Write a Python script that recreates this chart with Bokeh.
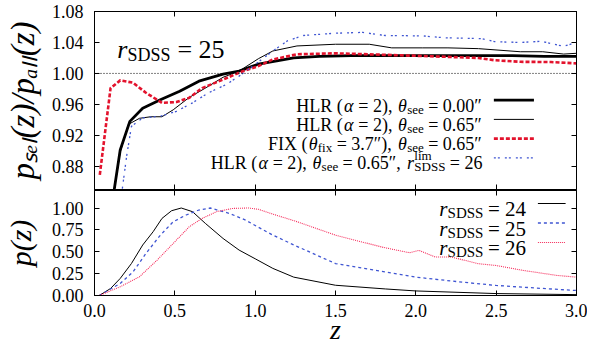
import glob, struct, math
from bokeh.plotting import figure
from bokeh.models import (Range1d, LinearAxis, FixedTicker, PrintfTickFormatter, Span, Label)
from bokeh.layouts import column
from bokeh.embed import file_html
from bokeh.resources import INLINE

# ---------------- data ----------------
z_hlr000 = [0.12, 0.16, 0.22, 0.30, 0.41, 0.53, 0.65, 0.80, 0.90, 1.02, 1.24, 1.40, 1.60,
            1.80, 2.00, 2.20, 2.40, 2.60, 2.80, 3.00]
p_hlr000 = [0.846, 0.901, 0.938, 0.955, 0.966, 0.977, 0.990, 0.999, 1.003, 1.012, 1.020,
            1.022, 1.023, 1.023, 1.023, 1.023, 1.023, 1.023, 1.022, 1.022]

z_hlr065 = [0.12, 0.16, 0.21, 0.28, 0.35, 0.42, 0.49, 0.59, 0.69, 0.80, 0.90, 1.02, 1.11,
            1.26, 1.50, 1.71, 1.85, 2.04, 2.20, 2.39, 2.65, 2.79, 2.92, 3.00]
p_hlr065 = [0.846, 0.898, 0.934, 0.942, 0.944, 0.944, 0.953, 0.969, 0.981, 0.995, 1.003,
            1.019, 1.029, 1.0355, 1.0377, 1.0377, 1.033, 1.033, 1.033, 1.032, 1.028, 1.028,
            1.025, 1.026]

z_fix = [0.033, 0.10, 0.16, 0.24, 0.32, 0.42, 0.51, 0.59, 0.67, 0.80, 0.90, 1.02, 1.11,
         1.26, 1.50, 1.81, 2.04, 2.39, 2.49, 2.65, 2.84, 3.00]
p_fix = [0.869, 0.981, 0.991, 0.988, 0.975, 0.962, 0.963, 0.9685, 0.981, 0.992, 1.001,
         1.0095, 1.018, 1.0247, 1.026, 1.024, 1.0225, 1.020, 1.017, 1.015, 1.0147, 1.013]

z_lim26 = [0.17, 0.20, 0.23, 0.30, 0.41, 0.51, 0.61, 0.71, 0.82, 0.90, 1.02, 1.11, 1.20,
           1.30, 1.50, 1.67, 1.81, 2.04, 2.18, 2.41, 2.49, 2.65, 2.78, 2.92, 3.00]
p_lim26 = [0.846, 0.893, 0.9316, 0.9425, 0.9446, 0.951, 0.962, 0.975, 0.9857, 0.9965,
           1.0147, 1.029, 1.042, 1.049, 1.052, 1.053, 1.049, 1.0485, 1.046, 1.045, 1.041,
           1.040, 1.0415, 1.035, 1.040]

z_r24 = [0.03, 0.10, 0.16, 0.23, 0.30, 0.365, 0.42, 0.48, 0.54, 0.61, 0.69, 0.80, 0.90,
         1.00, 1.11, 1.24, 1.50, 1.81, 2.00, 2.50, 3.00]
p_r24 = [0.0, 0.08, 0.195, 0.366, 0.577, 0.729, 0.881, 0.969, 1.0, 0.958, 0.824, 0.652,
         0.519, 0.42, 0.31, 0.21, 0.117, 0.075, 0.052, 0.022, 0.01]

z_r25 = [0.03, 0.16, 0.24, 0.32, 0.41, 0.49, 0.57, 0.65, 0.72, 0.84, 0.94, 1.02, 1.11,
         1.25, 1.50, 1.81, 2.00, 2.25, 2.50, 2.75, 3.00]
p_r25 = [0.0, 0.137, 0.27, 0.48, 0.69, 0.843, 0.92, 0.977, 1.0, 0.938, 0.862, 0.78, 0.69,
         0.57, 0.365, 0.27, 0.21, 0.16, 0.115, 0.085, 0.057]

z_r26 = [0.03, 0.16, 0.28, 0.39, 0.49, 0.59, 0.67, 0.76, 0.86, 0.96, 1.02, 1.11, 1.25,
         1.50, 1.79, 1.85, 1.96, 2.02, 2.12, 2.22, 2.39, 2.50, 2.67, 2.88, 3.00]
p_r26 = [0.0, 0.10, 0.214, 0.405, 0.595, 0.786, 0.881, 0.958, 0.995, 1.0, 0.985, 0.93,
         0.85, 0.69, 0.553, 0.53, 0.489, 0.515, 0.44, 0.44, 0.363, 0.343, 0.286, 0.229,
         0.21]

ref_level = 1.0
x_ticks = [0.0, 0.5, 1.0, 1.5, 2.0, 2.5, 3.0]
top_y_ticks = [0.88, 0.92, 0.96, 1.00, 1.04, 1.08]
bot_y_ticks = [0.0, 0.25, 0.5, 0.75, 1.0]

top_rows = [
    [("HLR (", "rm"), ("α", "it"), (" = 2), ", "rm"), ("θ", "it"), ("see", "sub"), (" = 0.00″", "rm")],
    [("HLR (", "rm"), ("α", "it"), (" = 2), ", "rm"), ("θ", "it"), ("see", "sub"), (" = 0.65″", "rm")],
    [("FIX (", "rm"), ("θ", "it"), ("fix", "sub"), (" = 3.7″), ", "rm"), ("θ", "it"), ("see", "sub"),
     (" = 0.65″", "rm")],
    [("HLR (", "rm"), ("α", "it"), (" = 2), ", "rm"), ("θ", "it"), ("see", "sub"), (" = 0.65″, ", "rm"),
     ("r", "it"), ("lim", "sup0"), ("SDSS", "sub"), (" = 26", "rm")],
]
bot_rows = [" = 24", " = 25", " = 26"]

# ---------------- font metrics (for composing sub/superscripts) ----------------
FONT = "Liberation Serif"


def _find(name):
    for root in ("/usr/share/fonts", "/usr/local/share/fonts", "/usr/share"):
        hits = glob.glob(root + "/**/" + name, recursive=True)
        if hits:
            return hits[0]
    return None


def _metrics(path):
    try:
        data = open(path, "rb").read()
        n = struct.unpack(">H", data[4:6])[0]
        tabs = {}
        for i in range(n):
            tag, cs, off, ln = struct.unpack(">4sIII", data[12 + 16 * i:28 + 16 * i])
            tabs[tag.decode("latin1")] = off
        upem = struct.unpack(">H", data[tabs["head"] + 18:tabs["head"] + 20])[0]
        hh = tabs["hhea"]
        nhm = struct.unpack(">H", data[hh + 34:hh + 36])[0]
        hm = tabs["hmtx"]
        adv = [struct.unpack(">H", data[hm + 4 * i:hm + 4 * i + 2])[0] for i in range(nhm)]
        cm = tabs["cmap"]
        nsub = struct.unpack(">H", data[cm + 2:cm + 4])[0]
        sub = None
        for i in range(nsub):
            pid, eid, off = struct.unpack(">HHI", data[cm + 4 + 8 * i:cm + 12 + 8 * i])
            fmt = struct.unpack(">H", data[cm + off:cm + off + 2])[0]
            if fmt == 4 and (pid == 3 or pid == 0):
                sub = cm + off
                break
        segx2 = struct.unpack(">H", data[sub + 6:sub + 8])[0]
        seg = segx2 // 2
        ends = struct.unpack(">%dH" % seg, data[sub + 14:sub + 14 + segx2])
        so = sub + 16 + segx2
        starts = struct.unpack(">%dH" % seg, data[so:so + segx2])
        do = so + segx2
        deltas = struct.unpack(">%dh" % seg, data[do:do + segx2])
        ro = do + segx2
        ros = struct.unpack(">%dH" % seg, data[ro:ro + segx2])

        def gid(c):
            for i in range(seg):
                if ends[i] >= c:
                    if starts[i] > c:
                        return 0
                    if ros[i] == 0:
                        return (c + deltas[i]) & 0xFFFF
                    a = ro + 2 * i + ros[i] + 2 * (c - starts[i])
                    g = struct.unpack(">H", data[a:a + 2])[0]
                    return (g + deltas[i]) & 0xFFFF if g else 0
            return 0

        def width(s):
            t = 0
            for ch in s:
                g = gid(ord(ch))
                t += adv[min(g, nhm - 1)] if g else 0.45 * upem
            return t / upem
        return width
    except Exception:
        return None


_fallback = lambda s: 0.5 * len(s)
_reg = _find("LiberationSerif-Regular.ttf")
_ita = _find("LiberationSerif-Italic.ttf")
W = {"normal": (_metrics(_reg) if _reg else None) or _fallback,
     "italic": (_metrics(_ita) if _ita else None) or _fallback}


# ---------------- layout (picture pixels) ----------------
FL, FW = 99, 482          # frame left / width
REF_FW = 487              # frame width in the original picture
TOP_T, TOP_H = 12, 178
BOT_T, BOT_H = 191, 105
XR = (0.0, 3.0)
TYR = (0.85, 1.08)
BYR = (0.0, 1.2)

sx = lambda px_ref: FL + (px_ref - FL) * FW / REF_FW      # original x pixel -> our x pixel
tx = lambda px: XR[0] + (px - FL) / FW * (XR[1] - XR[0])
ty_top = lambda py: TYR[1] - (py - TOP_T) / TOP_H * (TYR[1] - TYR[0])
ty_bot = lambda py: BYR[1] - (py - BOT_T) / BOT_H * (BYR[1] - BYR[0])


def rich(fig, ty, ax_px, ay_px, pieces, size, align="left"):
    """Compose a line of text with italic parts, sub- and superscripts (picture pixels)."""
    items, cum = [], 0.0
    for txt, kind in pieces:
        txt = txt.replace(" ", "\u00a0")
        s = size * 0.7 if kind in ("sub", "sup", "sup0") else size
        style = "italic" if kind == "it" else "normal"
        w = W[style](txt) * s
        shift = {"sub": -0.2 * size, "sup": 0.42 * size, "sup0": 0.42 * size}.get(kind, 0.0)
        items.append((txt, style, s, cum, shift))
        if kind != "sup0":
            cum += w
    start = {"left": 0.0, "right": -cum, "center": -cum / 2}[align]
    for txt, style, s, off, shift in items:
        fig.add_layout(Label(x=tx(ax_px + start + off), y=ty(ay_px - shift), text=txt,
                             text_font=FONT, text_font_size="%dpx" % round(s),
                             text_font_style=style, text_align="left",
                             text_baseline="alphabetic", text_color="black"))


def make_fig(yr, fh, mb_top, mb_bot, yticks):
    f = figure(frame_width=FW, frame_height=fh, x_range=Range1d(*XR), y_range=Range1d(*yr),
               output_backend="svg", toolbar_location=None, min_border_left=91,
               min_border_right=11, min_border_top=mb_top, min_border_bottom=mb_bot)
    f.add_layout(LinearAxis(), "above")
    f.add_layout(LinearAxis(), "right")
    f.xgrid.visible = False
    f.ygrid.visible = False
    f.outline_line_color = "black"
    f.outline_line_width = 1
    f.background_fill_color = "white"
    f.border_fill_color = "white"
    for ax in f.above + f.below:
        ax.ticker = FixedTicker(ticks=x_ticks)
        ax.formatter = PrintfTickFormatter(format="%.1f")
    for ax in f.left + f.right:
        ax.ticker = FixedTicker(ticks=yticks)
        ax.formatter = PrintfTickFormatter(format="%.2f")
    for ax in f.above + f.below + f.left + f.right:
        ax.major_tick_in = 5
        ax.major_tick_out = 0
        ax.minor_tick_in = 0
        ax.minor_tick_out = 0
        ax.axis_line_color = "black"
        ax.major_tick_line_color = "black"
        ax.major_label_text_font = FONT
        ax.major_label_text_font_size = "18px"
        ax.major_label_text_color = "black"
        ax.axis_label_text_font = FONT
        ax.axis_label_text_font_style = "italic"
        ax.axis_label_text_font_size = "30px"
        ax.axis_label_text_color = "black"
    return f


def hide_labels(ax):
    ax.major_label_text_font_size = "0px"
    ax.major_label_text_color = None
    ax.major_label_standoff = 0


top = make_fig(TYR, TOP_H, 11, 1, top_y_ticks)
bot = make_fig(BYR, BOT_H, 0, 0, bot_y_ticks)

for ax in top.above + top.below + top.right + bot.above + bot.right:
    hide_labels(ax)
for f in (top, bot):
    f.left[0].major_label_standoff = 11
top.left[0].axis_label_text_font_size = "33px"
top.left[0].axis_label_standoff = 8
bot.left[0].axis_label_standoff = 12
bot.below[0].major_label_standoff = 8
bot.below[0].axis_label_text_font_size = "28px"
bot.below[0].axis_label_standoff = -6

top.left[0].axis_label = "pₛₑₗ(z)/pₐₗₗ(z)"
bot.left[0].axis_label = "p(z)"
bot.below[0].axis_label = "z"

# ---------------- styles ----------------
RED = "#e3132d"
BLUE = "#3f55d2"
PINK = "#f52a5a"
sty_top = [dict(line_color="black", line_width=2.8),
           dict(line_color="black", line_width=1.0),
           dict(line_color=RED, line_width=2.6, line_dash="4 2"),
           dict(line_color=BLUE, line_width=1.3, line_dash="2 2 2 5")]
sty_bot = [dict(line_color="black", line_width=1.0),
           dict(line_color=BLUE, line_width=1.3, line_dash="3 3"),
           dict(line_color=PINK, line_width=1.1, line_dash="1 1")]

# ---------------- top panel ----------------
top.add_layout(Span(location=ref_level, dimension="width", line_color="black",
                    line_width=1, line_dash="1 2"))
for (zz, pp), st in zip(((z_hlr000, p_hlr000), (z_hlr065, p_hlr065), (z_fix, p_fix),
                         (z_lim26, p_lim26)), sty_top):
    top.line(zz, pp, **st)

# legend keys (drawn to the right of the entries, as in the original)
for i, st in enumerate(sty_top):
    yk = ty_top(100.7 + 19.2 * i)
    top.line([tx(sx(502.5)), tx(sx(543))], [yk, yk], **st)
for i, row in enumerate(top_rows):
    rich(top, ty_top, sx(492), 106 + 19.2 * i, row, 18.5, align="right")

rich(top, ty_top, sx(122), 50, [("r", "it"), ("SDSS", "sub"), (" = 25", "rm")], 26)

# ---------------- bottom panel ----------------
for (zz, pp), st in zip(((z_r24, p_r24), (z_r25, p_r25), (z_r26, p_r26)), sty_bot):
    bot.line(zz, pp, **st)

for i, st in enumerate(sty_bot):
    yk = ty_bot(204 + 19.5 * i)
    bot.line([tx(sx(547)), tx(sx(575))], [yk, yk], **st)
for i, lab in enumerate(bot_rows):
    rich(bot, ty_bot, sx(535), 209.7 + 19.5 * i, [("r", "it"), ("SDSS", "sub"), (lab, "rm")],
         21, align="right")

layout = column(top, bot)
open("out.html", "w").write(file_html(layout, INLINE))
